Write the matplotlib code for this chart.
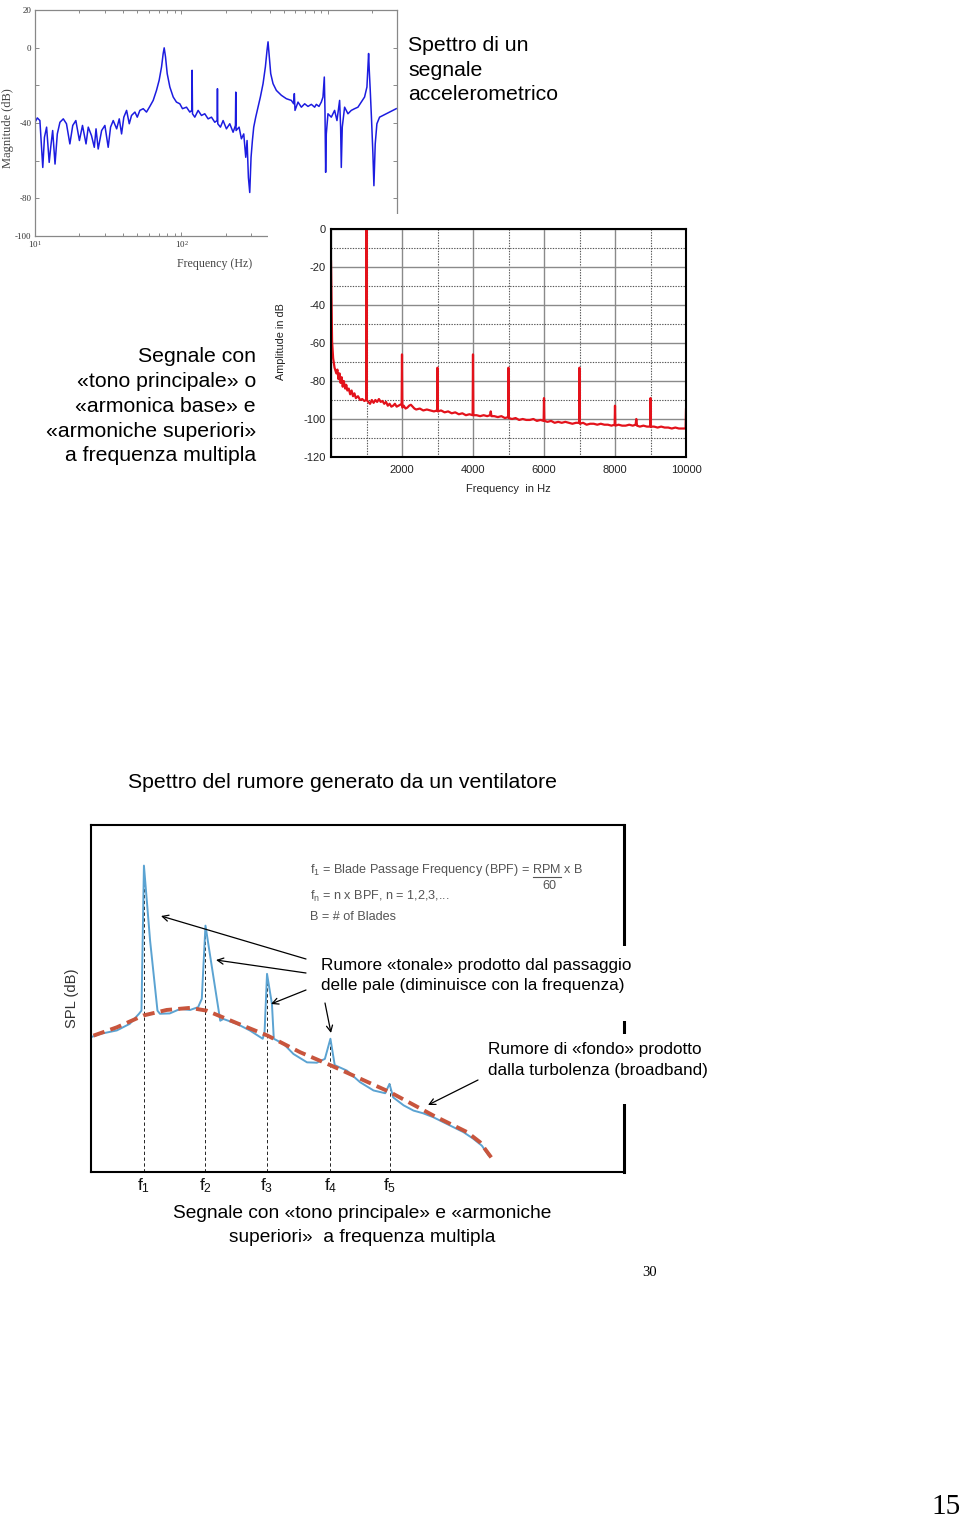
import matplotlib
matplotlib.use('Agg')
import matplotlib.pyplot as plt
from matplotlib.patches import Rectangle
from matplotlib.lines import Line2D

plt.rcParams['axes.unicode_minus'] = False

W, H = 960, 1520
SANS = ['Liberation Sans', 'DejaVu Sans']
SERIF = ['Liberation Serif', 'DejaVu Serif']
NARROW = ['Liberation Sans', 'DejaVu Sans']


def fx(px):
    return px / W


def fy(py):
    return 1 - py / H


def box(l, t, r, b):
    return [l / W, 1 - b / H, (r - l) / W, (b - t) / H]


# ---------------- data: accelerometer spectrum (log frequency) ----------------
acc_freq = [10.0, 10.37, 10.8, 11.3, 11.6, 12.0, 12.5, 12.8, 13.2, 13.7, 14.2, 14.8,
            15.6, 16.4, 17.3, 18.1, 19.0, 20.1, 21.1, 22.3, 23.1, 24.3, 25.4, 26.1,
            27.0, 28.5, 30.0, 31.6, 32.8, 34.2, 36.1, 37.6, 39.0, 40.4, 42.2, 44.0,
            45.6, 48.1, 49.9, 52.0, 54.8, 57.7, 60.8, 64.1, 67.5, 70.4, 73.1, 75.0,
            76.2, 77.8, 79.9, 83.3, 87.8, 92.4, 97.4, 101.6, 108.2, 114.0, 117.6,
            118.2, 118.9, 123.3, 129.9, 136.9, 144.2, 152.0, 160.2, 168.8, 175.1,
            176.0, 176.9, 184.5, 192.4, 202.7, 213.6, 225.1, 233.5, 234.7, 235.9,
            247.3, 256.5, 266.1, 274.6, 280.4, 286.3, 292.4, 298.5, 304.9, 311.3,
            321.2, 333.2, 345.6, 360.5, 373.9, 383.8, 389.9, 396.1, 406.6, 421.7,
            444.4, 480.8, 519.9, 562.3, 583.3, 589.5, 595.7, 624.5, 658.1, 693.4,
            730.6, 770.0, 811.1, 832.6, 868.2, 900.6, 924.6, 944.1, 954.1, 964.2,
            974.1, 1000, 1054, 1110, 1152, 1201, 1220, 1233, 1252, 1299, 1369, 1443,
            1520, 1602, 1688, 1778, 1845, 1874, 1894, 1914, 1944, 1985, 2027, 2059,
            2102, 2158, 2251, 2371, 2499, 2634, 2775, 2924]
acc_db = [-39.6, -37.3, -38.7, -63.6, -47.6, -42.2, -60.9, -52.9, -44.0, -61.8, -45.8, -39.6,
          -37.8, -40.4, -51.1, -41.3, -38.7, -49.3, -41.3, -51.1, -42.2, -46.7, -52.9, -43.1,
          -53.8, -44.0, -41.3, -52.9, -42.2, -38.7, -43.1, -37.8, -45.8, -36.9, -33.3, -40.4,
          -36.0, -34.2, -36.9, -33.3, -32.4, -34.2, -31.2, -28.0, -22.7, -17.3, -10.2, -3.1,
          -0.1, -4.9, -13.8, -20.9, -26.2, -28.9, -29.8, -32.4, -31.6, -34.2, -33.3,
          -12.0, -35.1, -36.9, -33.3, -36.0, -35.1, -37.8, -36.9, -39.6, -38.7,
          -21.8, -40.4, -42.2, -38.7, -43.1, -40.4, -44.9, -41.3, -23.6, -44.0,
          -42.2, -48.4, -45.8, -58.2, -49.3, -68.9, -76.9, -58.2, -49.3, -42.2,
          -36.9, -31.6, -26.2, -19.1, -10.2, -1.3, 3.1, -3.1, -13.8, -19.1,
          -22.7, -25.3, -27.1, -28.0, -29.8, -24.4, -33.3, -28.9, -31.6, -29.8,
          -31.2, -30.1, -31.6, -30.1, -31.2, -28.9, -26.2, -15.6, -33.3, -66.2,
          -45.8, -35.1, -36.9, -33.3, -38.7, -28.0, -42.2, -63.6, -42.2, -31.6, -35.1, -33.3,
          -32.4, -31.6, -28.9, -26.2, -20.9, -10.2, -3.1, -12.0, -22.7, -38.7, -56.4, -73.3,
          -51.1, -40.4, -36.9, -36.0, -35.1, -34.2, -33.3, -32.4]
acc_yticks = [20, 0, -20, -40, -60, -80, -100]
acc_ylabels = ['20', '0', '', '-40', '', '-80', '-100']

# ---------------- data: tonal signal spectrum (linear frequency) ----------------
tone_freq = [0, 15, 30, 60, 100, 150, 180, 210, 240, 270, 300, 330, 360, 400, 430, 460,
             500, 540, 580, 620, 660, 700, 760, 820, 880, 940, 990, 1000, 1010,
             1050, 1100, 1150, 1200, 1250, 1300, 1350, 1400, 1450, 1500, 1550, 1600,
             1650, 1700, 1750, 1800, 1850, 1900, 1950, 1990, 2000, 2010, 2050, 2100,
             2150, 2200, 2250, 2300, 2350, 2400, 2500, 2600, 2700, 2800, 2900, 2990,
             3000, 3010, 3100, 3200, 3300, 3400, 3500, 3600, 3700, 3800, 3900, 3990,
             4000, 4010, 4100, 4200, 4300, 4400, 4480, 4500, 4520, 4600, 4700, 4800,
             4900, 4990, 5000, 5010, 5100, 5200, 5300, 5400, 5500, 5600, 5700, 5800,
             5900, 5990, 6000, 6010, 6100, 6200, 6300, 6400, 6500, 6600, 6700, 6800,
             6900, 6990, 7000, 7010, 7100, 7200, 7300, 7400, 7500, 7600, 7700, 7800,
             7900, 7990, 8000, 8010, 8100, 8200, 8300, 8400, 8500, 8580, 8600, 8620,
             8700, 8800, 8900, 8990, 9000, 9010, 9100, 9200, 9300, 9400, 9500, 9600,
             9700, 9800, 9900, 9990, 10000]
tone_db = [-17, -40, -59, -68, -73, -76, -74, -79, -76, -81, -78, -83, -80, -84, -82, -85,
           -84, -87, -85, -88, -86.5, -89, -88, -90, -89.5, -90.5, -90, 0, -90,
           -91, -92, -90, -91.5, -90, -91, -89.5, -91, -90.5, -92, -91, -93,
           -92, -93.5, -93, -92, -93.5, -93, -92.5, -92, -66, -94, -93, -94.5,
           -94, -93, -92.5, -93.5, -94.5, -95, -94.5, -95.5, -95, -95.5, -96, -95.5,
           -73, -96, -95.5, -96.5, -96, -97, -96.5, -97.5, -97, -98, -97.5, -98,
           -66, -98, -98, -98.5, -98, -98.5, -98, -96, -98.5, -98.5, -99, -98.5,
           -99.5, -99, -73, -99.5, -100, -99.5, -100.5, -100, -100.5, -100.5, -100, -101,
           -100.5, -101, -89, -101, -101.5, -101, -102, -101.5, -102, -101.5, -102, -102.5,
           -102, -102, -73, -102.5, -102, -103, -102.5, -102.5, -103, -102.5, -103, -103,
           -103.5, -103, -93, -103.5, -103, -103.5, -103.5, -103, -103.5, -103, -100, -103.5,
           -104, -103.5, -104, -104, -89, -104, -104, -104.5, -104, -104.5, -104.5, -105,
           -104.5, -105, -105, -105, -95]
tone_xticks = [0, 2000, 4000, 6000, 8000, 10000]
tone_xlabels = ['', '2000', '4000', '6000', '8000', '10000']
tone_xminor = [1000, 3000, 5000, 7000, 9000]
tone_yticks = [0, -20, -40, -60, -80, -100, -120]
tone_yminor = [-10, -30, -50, -70, -90, -110]

# ---------------- data: fan noise spectrum (schematic) ----------------
fan_x = [0.13, 0.29, 0.56, 0.77, 0.92, 0.96, 1.0, 1.10, 1.22, 1.26, 1.42, 1.59, 1.75,
         1.88, 1.94, 2.0, 2.13, 2.24, 2.29, 2.51, 2.72, 2.93, 2.96, 3.0, 3.08, 3.11,
         3.27, 3.43, 3.65, 3.81, 3.94, 4.03, 4.10, 4.30, 4.51, 4.73, 4.92, 4.99, 5.05,
         5.22, 5.38, 5.54, 5.70, 5.87, 6.03, 6.19, 6.35, 6.49, 6.60]
fan_spl = [38.8, 39.8, 40.8, 42.7, 45.6, 46.5, 88.3, 66.7, 46.5, 45.6, 45.7, 47.0, 46.7,
           47.5, 49.9, 71.0, 56.1, 43.6, 44.1, 42.7, 40.8, 38.4, 40.3, 57.1, 48.4, 38.4,
           36.9, 34.0, 31.6, 31.5, 32.6, 38.4, 30.8, 29.2, 25.9, 23.5, 22.7, 25.4, 21.5,
           19.2, 17.7, 16.9, 15.8, 14.3, 12.9, 11.5, 9.6, 7.6, 4.8]
trend_x = [0.18, 0.56, 0.99, 1.37, 1.75, 2.02, 2.51, 3.01, 3.54, 4.04, 5.0, 5.70,
           6.25, 6.46, 6.68]
trend_spl = [39.3, 41.7, 45.1, 46.7, 47.3, 46.5, 42.9, 39.3, 34.5, 30.7, 23.0, 16.3,
             11.5, 8.6, 3.3]
harm_pos = [1.0, 2.0, 3.0, 4.03, 4.99]
harm_peak = [88.3, 71.0, 57.1, 38.4, 25.4]
harm_labels = ['$\\mathregular{f_1}$', '$\\mathregular{f_2}$', '$\\mathregular{f_3}$',
               '$\\mathregular{f_4}$', '$\\mathregular{f_5}$']

# ============================ figure ============================
fig = plt.figure(figsize=(W / 100, H / 100), dpi=100)
fig.patch.set_facecolor('white')

# ---- chart 1: accelerometer ----
ax1 = fig.add_axes(box(35, 10, 397, 236))
ax1.semilogx(acc_freq, acc_db, color='#1c1ce0', lw=1.1)
ax1.set_xlim(10, 2960)
ax1.set_ylim(-100, 20)
ax1.set_yticks(acc_yticks, acc_ylabels)
ax1.set_xticks([10, 100, 1000], ['$\\mathregular{10^{1}}$', '$\\mathregular{10^{2}}$', ''])
ax1.tick_params(which='both', direction='in', top=True, right=True, colors='#777',
                labelcolor='#333', labelsize=6.5, pad=2.5, length=3, width=0.6)
ax1.tick_params(which='minor', length=2)
for lab in ax1.get_xticklabels() + ax1.get_yticklabels():
    lab.set_family(SERIF)
for s in ax1.spines.values():
    s.set_color('#888')
    s.set_linewidth(0.9)
ax1.set_xlabel('Frequency (Hz)', family=SERIF, fontsize=8.6, color='#444')
ax1.xaxis.set_label_coords((215 - 35) / 362, -(264 - 236) / 226)
ax1.xaxis.label.set_va('center')
ax1.set_ylabel('Magnitude (dB)', family=SERIF, fontsize=9, color='#444')
ax1.yaxis.set_label_coords((8 - 35) / 362, (236 - 128) / 226)
ax1.yaxis.label.set_va('center')

# white cover where the second picture overlaps the first one
fig.patches.append(Rectangle((fx(268), fy(505)), (712 - 268) / W, (505 - 214) / H,
                             transform=fig.transFigure, facecolor='white',
                             edgecolor='none', zorder=2))

# ---- chart 2: tonal spectrum ----
ax2 = fig.add_axes(box(331, 229, 686, 457), zorder=3)
ax2.set_facecolor('white')
ax2.plot(tone_freq, tone_db, color='#e3121b', lw=1.6)
ax2.set_xlim(0, 10000)
ax2.set_ylim(-120, 0)
ax2.set_xticks(tone_xticks, tone_xlabels)
ax2.set_xticks(tone_xminor, minor=True)
ax2.set_yticks(tone_yticks)
ax2.set_yticks(tone_yminor, minor=True)
ax2.set_axisbelow(True)
ax2.grid(which='major', color='#8a8a8a', lw=1.0, ls='-')
ax2.grid(which='minor', color='#555', lw=0.8, ls=(0, (1.2, 1.2)))
ax2.tick_params(which='both', length=0, labelsize=8, labelcolor='#222')
ax2.tick_params(axis='x', pad=6)
ax2.tick_params(axis='y', pad=4)
for lab in ax2.get_xticklabels() + ax2.get_yticklabels():
    lab.set_family(SANS)
for s in ax2.spines.values():
    s.set_color('black')
    s.set_linewidth(1.5)
ax2.set_xlabel('Frequency  in Hz', family=SANS, fontsize=8, color='#222')
ax2.xaxis.set_label_coords(0.501, -(489 - 457) / 228)
ax2.xaxis.label.set_va('center')
ax2.set_ylabel('Amplitude in dB', family=SANS, fontsize=7.8, color='#222')
ax2.yaxis.set_label_coords((281 - 331) / 355, (457 - 342) / 228)
ax2.yaxis.label.set_va('center')

# ---- text blocks, top part ----
fig.text(fx(408), fy(36), 'Spettro di un\nsegnale\naccelerometrico', family=SANS,
         fontsize=15.3, ha='left', va='top', linespacing=1.38)
fig.text(fx(256), fy(347), 'Segnale con\n«tono principale» o\n«armonica base» e\n'
         '«armoniche superiori»\na frequenza multipla', family=SANS, fontsize=15.3,
         ha='right', va='top', multialignment='right', linespacing=1.39)
fig.text(fx(128), fy(782), 'Spettro del rumore generato da un ventilatore',
         family=SANS, fontsize=15.3, ha='left', va='center')

# ---- chart 3: fan noise ----
ax3 = fig.add_axes(box(91, 825, 624, 1172))
ax3.plot(fan_x, fan_spl, color='#5ba3d2', lw=1.4, zorder=2)
ax3.plot(trend_x, trend_spl, color='#c8553d', lw=2.8, ls=(0, (3, 1.6)), zorder=2.2)
ax3.vlines(harm_pos, 0, harm_peak, colors='black', lw=0.6, linestyles=(0, (4, 3)),
           zorder=1.8)
ax3.set_xlim(0.14, 8.8)
ax3.set_ylim(0, 100)
ax3.set_xticks(harm_pos, harm_labels)
ax3.set_yticks([])
ax3.tick_params(axis='x', length=0, pad=3, labelsize=12.5, labelcolor='#111')
for lab in ax3.get_xticklabels():
    lab.set_family(SANS)
for s in ax3.spines.values():
    s.set_color('black')
    s.set_linewidth(1.5)
ax3.spines['right'].set_linewidth(2.2)
ax3.set_ylabel('SPL (dB)', family=SANS, fontsize=10.6, color='#333')
ax3.yaxis.set_label_coords((72 - 91) / 533, (1172 - 998) / 347)
ax3.yaxis.label.set_va('center')

for (l, t, r, b) in [(312, 946, 700, 1021), (478, 1034, 715, 1104)]:
    ax3.add_patch(Rectangle((fx(l), fy(b)), (r - l) / W, (b - t) / H,
                            transform=fig.transFigure, facecolor='white',
                            edgecolor='none', clip_on=False, zorder=2.7))

arrows = [((306, 959), (161, 916)), ((306, 973), (216, 960)), ((306, 990), (271, 1004)),
          ((325, 1003), (331, 1033)), ((478, 1080), (428, 1105))]
for (sx, sy), (tx, ty) in arrows:
    ax3.annotate('', xy=(fx(tx), fy(ty)), xycoords='figure fraction',
                 xytext=(fx(sx), fy(sy)), textcoords='figure fraction',
                 arrowprops=dict(arrowstyle='->', color='black', lw=0.9,
                                 shrinkA=0, shrinkB=0,
                                 mutation_scale=11), zorder=4)

ax3.text(fx(321), fy(975.5), 'Rumore «tonale» prodotto dal passaggio\n'
         'delle pale (diminuisce con la frequenza)', transform=fig.transFigure,
         family=SANS, fontsize=12.3, ha='left', va='center', linespacing=1.45,
         zorder=5)
ax3.text(fx(488), fy(1060), 'Rumore di «fondo» prodotto\ndalla turbolenza (broadband)',
         transform=fig.transFigure, family=SANS, fontsize=12.3, ha='left',
         va='center', linespacing=1.45, zorder=5)

fcol = '#555555'
ax3.text(fx(310), fy(870), '$\\mathregular{f_1}$ = Blade Passage Frequency (BPF) = RPM x B',
         transform=fig.transFigure, family=NARROW, fontsize=9.1, color=fcol,
         ha='left', va='center', zorder=5)
ax3.text(fx(549), fy(886), '60', transform=fig.transFigure, family=NARROW,
         fontsize=9.1, color=fcol, ha='center', va='center', zorder=5)
ax3.text(fx(310), fy(896), '$\\mathregular{f_n}$ = n x BPF, n = 1,2,3,...',
         transform=fig.transFigure, family=NARROW, fontsize=9.1, color=fcol,
         ha='left', va='center', zorder=5)
ax3.text(fx(310), fy(917), 'B = # of Blades', transform=fig.transFigure, family=NARROW,
         fontsize=9.1, color=fcol, ha='left', va='center', zorder=5)
fig.add_artist(Line2D([fx(533), fx(561)], [fy(877), fy(877)], color=fcol, lw=0.8))

fig.text(fx(362), fy(1213), 'Segnale con «tono principale» e «armoniche',
         family=SANS, fontsize=13.8, ha='center', va='center')
fig.text(fx(362), fy(1237), 'superiori»  a frequenza multipla',
         family=SANS, fontsize=13.8, ha='center', va='center')

fig.text(fx(650), fy(1272), '30', family=SERIF, fontsize=10.5, ha='center', va='center')
fig.text(fx(946), fy(1507), '15', family=SERIF, fontsize=21, ha='center', va='center')

fig.savefig('out.png', dpi=100, facecolor='white')
